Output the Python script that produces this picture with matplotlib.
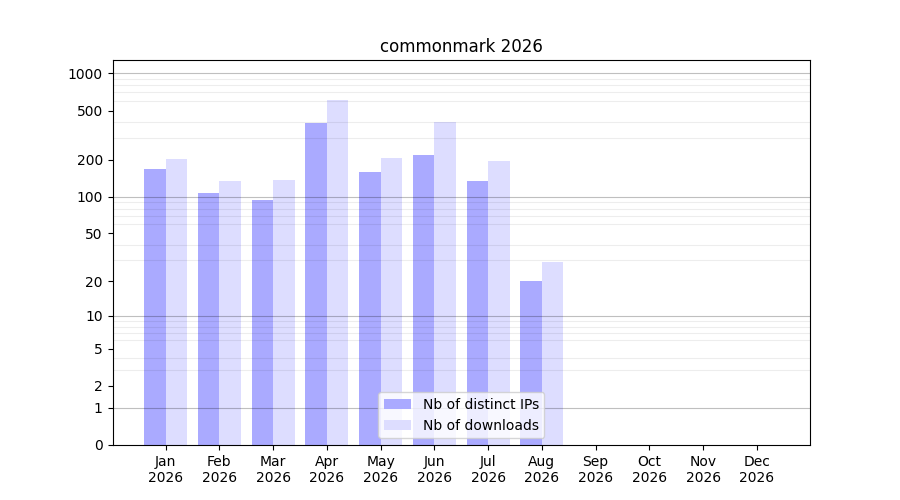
import numpy as np
import matplotlib
matplotlib.use("Agg")
import matplotlib.pyplot as plt

months = ["Jan", "Feb", "Mar", "Apr", "May", "Jun", "Jul", "Aug", "Sep", "Oct", "Nov", "Dec"]
year = "2026"
distinct_ips = [168, 107, 94, 398, 159, 219, 135, 20, 0, 0, 0, 0]
downloads = [201, 135, 137, 605, 207, 400, 196, 29, 0, 0, 0, 0]
major_ticks = [0, 1, 2, 5, 10, 20, 50, 100, 200, 500, 1000]
decade_lines = [1, 10, 100, 1000]

fig, ax = plt.subplots(figsize=(9, 5), dpi=100)
ax.set_yscale("function", functions=(lambda v: np.log10(1 + np.clip(v, 0, None)),
                                     lambda y: 10 ** y - 1))
x = np.arange(len(months))
w = 0.4
ax.bar(x - w / 2, distinct_ips, width=w, color="#aaaaff", label="Nb of distinct IPs")
ax.bar(x + w / 2, downloads, width=w, color="#ddddff", label="Nb of downloads")

ax.set_ylim(0, 1280)
ax.set_yticks(major_ticks)
ax.set_yticklabels([str(t) for t in major_ticks])
minor = [m * 10 ** k for k in range(0, 4) for m in range(2, 10)]
minor = [v for v in minor if v <= 1280]
ax.set_yticks(minor, minor=True)
ax.tick_params(axis="y", which="minor", length=0)
ax.grid(True, which="minor", axis="y", color="#000000", alpha=0.07, linewidth=0.8)
for d in decade_lines:
    ax.axhline(d, color="#000000", alpha=0.25, linewidth=0.8, zorder=3)
ax.set_axisbelow(False)

ax.set_xticks(x)
ax.set_xticklabels([f"{m}\n{year}" for m in months])
ax.set_title("commonmark 2026")
ax.legend(loc="lower center")
fig.savefig("out.png")
